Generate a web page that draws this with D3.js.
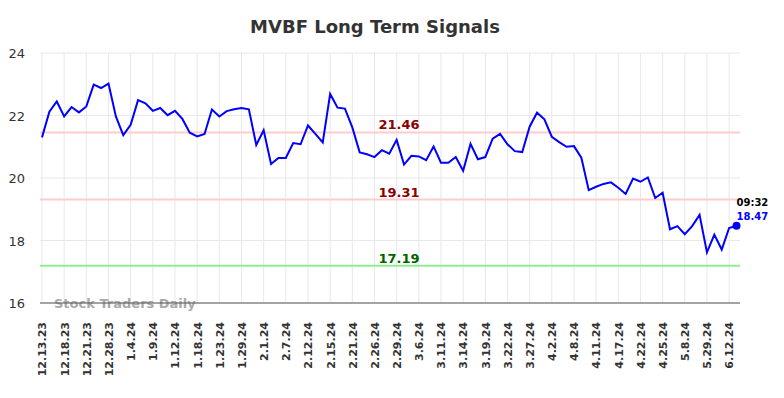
<!DOCTYPE html>
<html>
<head>
<meta charset="utf-8">
<script src="https://cdn.jsdelivr.net/npm/d3@7"></script>
<style>
  body { margin: 0; background: #fff; }
  svg { font-family: "DejaVu Sans", sans-serif; }
</style>
</head>
<body>
<svg id="chart" width="784" height="398"></svg>
<script>
// closing prices, one per trading day
let prices = [
  21.30, 22.12, 22.45, 21.97, 22.27, 22.10, 22.29, 22.99, 22.88, 23.02,
  21.97, 21.37, 21.70, 22.49, 22.39, 22.15, 22.24, 22.01, 22.15, 21.89,
  21.45, 21.33, 21.41, 22.19, 21.97, 22.14, 22.20, 22.24, 22.20, 21.06,
  21.53, 20.45, 20.64, 20.64, 21.12, 21.08, 21.68, 21.41, 21.14, 22.69,
  22.25, 22.22, 21.62, 20.82, 20.76, 20.67, 20.89, 20.78, 21.22, 20.43,
  20.71, 20.69, 20.57, 21.01, 20.49, 20.49, 20.67, 20.23, 21.09, 20.60,
  20.67, 21.26, 21.41, 21.08, 20.86, 20.83, 21.64, 22.09, 21.88, 21.32,
  21.15, 21.00, 21.02, 20.65, 19.61, 19.72, 19.81, 19.86, 19.69, 19.49,
  19.98, 19.88, 20.02, 19.36, 19.53, 18.36, 18.46, 18.20, 18.46, 18.82,
  17.62, 18.19, 17.71, 18.40, 18.47
];
// one label every 3 trading days
let tickLabels = ["12.13.23","12.18.23","12.21.23","12.28.23","1.4.24","1.9.24","1.12.24","1.18.24",
  "1.23.24","1.29.24","2.1.24","2.7.24","2.12.24","2.15.24","2.21.24","2.26.24","2.29.24","3.6.24",
  "3.11.24","3.14.24","3.19.24","3.22.24","3.27.24","4.2.24","4.8.24","4.11.24","4.17.24","4.22.24",
  "4.25.24","5.8.24","5.29.24","6.12.24"];
let yTicks = [16, 18, 20, 22, 24];
let signals = [
  {value: 21.46, line: "#ffcccc", text: "#8b0000"},
  {value: 19.31, line: "#ffcccc", text: "#8b0000"},
  {value: 17.19, line: "#90ee90", text: "#006400"}
];
let lastTime = "09:32";

let svg = d3.select("#chart");
let plotLeft = 40, plotRight = 740, plotTop = 53, plotBottom = 303;

let x = d3.scaleLinear().domain([0, prices.length - 1]).range([42, 736.5]);
let y = d3.scaleLinear().domain([16, 24]).range([plotBottom, plotTop]);

svg.append("text")
  .attr("x", 375).attr("y", 33)
  .attr("text-anchor", "middle")
  .attr("font-size", 18).attr("font-weight", "bold")
  .attr("fill", "#333")
  .text("MVBF Long Term Signals");

// grid
let tickIdx = tickLabels.map((d, i) => i * 3);
svg.append("g").selectAll("line").data(tickIdx).enter().append("line")
  .attr("x1", d => x(d)).attr("x2", d => x(d))
  .attr("y1", plotTop).attr("y2", plotBottom)
  .attr("stroke", "#e8e8e8").attr("stroke-width", 1);
svg.append("g").selectAll("line").data(yTicks).enter().append("line")
  .attr("x1", plotLeft).attr("x2", plotRight)
  .attr("y1", d => y(d)).attr("y2", d => y(d))
  .attr("stroke", "#e8e8e8").attr("stroke-width", 1);

// y labels
svg.append("g").selectAll("text").data(yTicks).enter().append("text")
  .attr("x", 25).attr("y", d => y(d) + 5)
  .attr("text-anchor", "end")
  .attr("font-size", 13).attr("fill", "#333")
  .text(d => d);

// x labels
let xAxis = d3.axisBottom(x)
  .tickValues(tickIdx)
  .tickFormat((d, i) => tickLabels[i])
  .tickSize(0);
let gx = svg.append("g").attr("transform", `translate(0,${plotBottom})`).call(xAxis);
gx.select(".domain").remove();
gx.selectAll("text")
  .attr("transform", "rotate(-90)")
  .attr("x", -19).attr("y", 0).attr("dy", "0.35em")
  .attr("text-anchor", "end")
  .attr("font-family", "DejaVu Sans").attr("font-size", 11)
  .attr("font-weight", "bold").attr("fill", "#333");

// signal lines
signals.forEach(s => {
  svg.append("line")
    .attr("x1", plotLeft).attr("x2", plotRight)
    .attr("y1", y(s.value)).attr("y2", y(s.value))
    .attr("stroke", s.line).attr("stroke-width", 2);
  svg.append("text")
    .attr("x", 399).attr("y", y(s.value) - 3)
    .attr("text-anchor", "middle")
    .attr("font-size", 13).attr("font-weight", "bold")
    .attr("fill", s.text)
    .text(s.value.toFixed(2));
});

// watermark
svg.append("text")
  .attr("x", 54).attr("y", 308)
  .attr("font-size", 13).attr("font-weight", "bold")
  .attr("fill", "#aaa")
  .text("Stock Traders Daily");

// axis line
svg.append("line")
  .attr("x1", plotLeft).attr("x2", plotRight)
  .attr("y1", plotBottom).attr("y2", plotBottom)
  .attr("stroke", "#555").attr("stroke-width", 1.2);

// price line
let line = d3.line().x((d, i) => x(i)).y(d => y(d));
svg.append("path").datum(prices)
  .attr("d", line)
  .attr("fill", "none").attr("stroke", "blue").attr("stroke-width", 2);

let li = prices.length - 1;
svg.append("circle")
  .attr("cx", x(li)).attr("cy", y(prices[li])).attr("r", 4)
  .attr("fill", "blue");
svg.append("text")
  .attr("x", x(li)).attr("y", y(prices[li]) - 20)
  .attr("font-size", 10).attr("font-weight", "bold").attr("fill", "#000")
  .text(lastTime);
svg.append("text")
  .attr("x", x(li)).attr("y", y(prices[li]) - 6)
  .attr("font-size", 10).attr("font-weight", "bold").attr("fill", "blue")
  .text(prices[li].toFixed(2));
</script>
</body>
</html>
